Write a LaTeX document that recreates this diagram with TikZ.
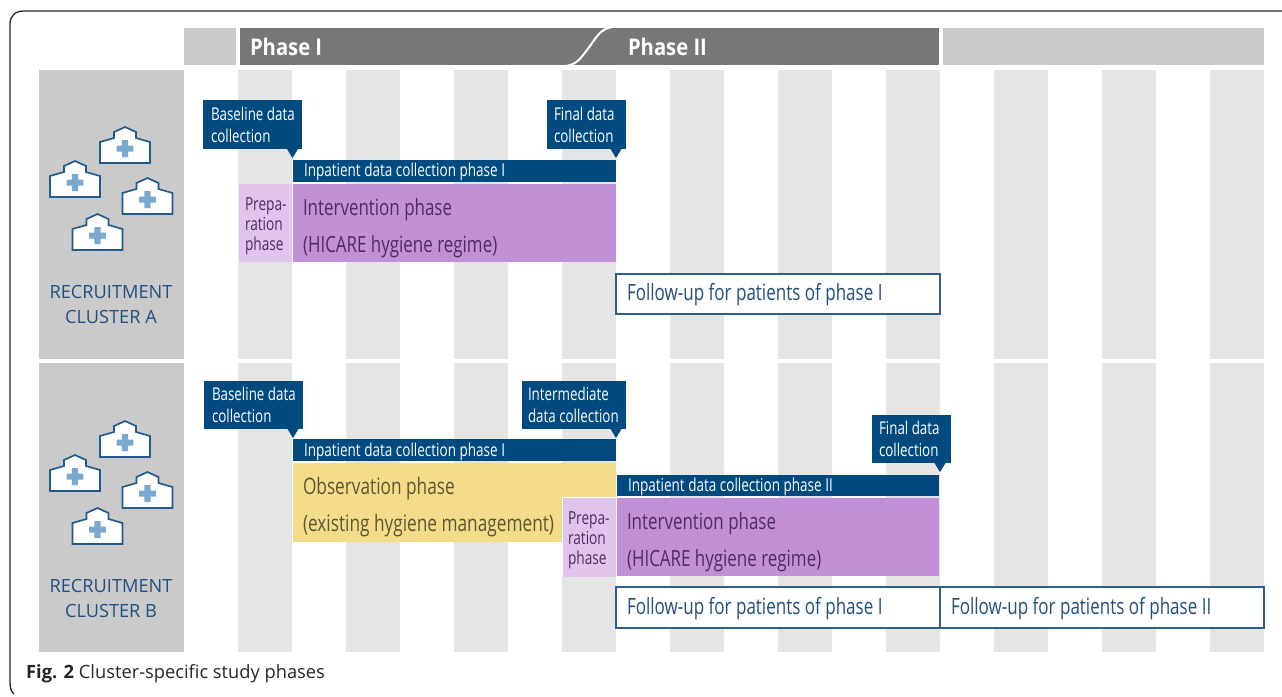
\documentclass[tikz,border=0pt]{standalone}
\usepackage{fontspec}
\setmainfont{Open Sans}
\newfontfamily\cond[FakeStretch=0.76]{Open Sans}
\newfontfamily\condb[FakeStretch=0.88]{Open Sans}
\newfontfamily\capf{Open Sans}
\definecolor{navy}{HTML}{004A80}
\definecolor{barline}{HTML}{2D5E8E}
\definecolor{hospc}{HTML}{225A8E}
\definecolor{hdr}{HTML}{777777}
\definecolor{hdrl}{HTML}{CACACA}
\definecolor{stripe}{HTML}{E5E5E5}
\definecolor{purp}{HTML}{C190D6}
\definecolor{prep}{HTML}{E0C4EC}
\definecolor{yell}{HTML}{F3DC8A}
\definecolor{crossc}{HTML}{7AA8CF}
\definecolor{ptxt}{HTML}{4E2C62}
\definecolor{ytxt}{HTML}{5E5632}
\definecolor{ftxt}{HTML}{224F7F}
\tikzset{x=1pt,y=-1pt,
 txt/.style={inner sep=0pt,outer sep=0pt,anchor=west,align=left,font=\cond},
 tbar/.style={txt,text=white,font=\cond\fontsize{17.8}{17.8}\selectfont},
 tcall/.style={txt,text=white,font=\cond\fontsize{17.6}{22.5}\selectfont},
 tbig/.style={txt,text=ptxt,font=\cond\fontsize{22.3}{37}\selectfont},
 tobs/.style={txt,text=ytxt,font=\cond\fontsize{22.7}{37}\selectfont},
 tprep/.style={txt,text=ptxt,font=\cond\fontsize{18}{20.2}\selectfont},
 tfol/.style={txt,text=ftxt,font=\cond\fontsize{22.4}{22.4}\selectfont},
 thead/.style={txt,text=white,font=\condb\bfseries\fontsize{23}{23}\selectfont},
 tclu/.style={inner sep=0pt,align=center,text=ftxt,font=\fontsize{18.2}{24.2}\selectfont},
 fillbox/.style={inner sep=0pt,outer sep=0pt,anchor=north west},
 followbox/.style={draw=barline,line width=1.6pt,fill=white},
 hospline/.style={draw=hospc,line width=1.7pt,fill=white,line join=miter},
}
\newcommand{\rbox}[6]{% name x1 y1 x2 y2 style
 \pgfmathsetmacro{\rw}{#4-#2}\pgfmathsetmacro{\rh}{#5-#3}
 \node[fillbox,minimum width=\rw pt,minimum height=\rh pt,#6] (#1) at (#2,#3) {};}
\newcommand{\calloutbox}[6]{% name x1 y1 x2 y2 tipx
 \rbox{#1}{#2}{#3}{#4}{#5}{fill=navy}
 \fill[navy] (#6-5.5,#5) -- (#6,#5+9) -- (#6+5.5,#5) -- cycle;}
\newcommand{\hosp}[2]{% centre x, top y
 \begin{scope}[shift={(#1,#2)}]
 \path[hospline] (-25,36) -- (-25,15) -- (-11,11) -- (-11,5) -- (0,0) -- (11,5) -- (11,11) -- (25,15) -- (25,36) -- cycle;
 \fill[crossc] (-3.2,13) -- (3.2,13) -- (3.2,18.5) -- (8.3,18.5) -- (8.3,24.7) -- (3.2,24.7) -- (3.2,30) -- (-3.2,30) -- (-3.2,24.7) -- (-8.3,24.7) -- (-8.3,18.5) -- (-3.2,18.5) -- cycle;
 \end{scope}}
\begin{document}
\begin{tikzpicture}
\useasboundingbox (0,0) rectangle (1282,696);
% frame
\draw[line width=1.3pt,black!85] (1282,11) -- (24,11) .. controls (15,11) and (10,16) .. (10,24) -- (10,682) .. controls (10,688) and (11,691) .. (14,694);
% header
\rbox{h0}{184}{28}{236}{65}{fill=hdrl}
\rbox{h1}{240}{28}{939}{65}{fill=hdr}
\rbox{h2}{943}{28}{1264}{65}{fill=hdrl}
\draw[white,line width=2pt] (565,66) .. controls (578,65) and (582,56) .. (590,46) .. controls (596,38) and (600,29) .. (612,27);
\node[thead] (ph1) at (250,47) {Phase I};
\node[thead] (ph2) at (628,47) {Phase II};
% cluster panels
\rbox{ca}{39}{70}{184}{359}{fill=hdrl}
\rbox{cb}{39}{363}{184}{652}{fill=hdrl}
% stripes
\foreach \sx in {238,346,454,562,670,778,886,994,1102,1210}{
 \rbox{sa\sx}{\sx}{70}{\sx+54}{359}{fill=stripe}
 \rbox{sb\sx}{\sx}{363}{\sx+54}{652}{fill=stripe}
}
% hospitals
\foreach \dy in {0,294}{
 \hosp{125}{127+\dy}
 \hosp{75}{161+\dy}
 \hosp{147.5}{178+\dy}
 \hosp{97.5}{214+\dy}
}
\node[tclu] (la) at (111,304.5) {RECRUITMENT\\CLUSTER A};
\node[tclu] (lb) at (111,598.5) {RECRUITMENT\\CLUSTER B};
% cluster A
\calloutbox{c1}{203}{100}{302}{149}{292.5}
\node[tcall] (c1t) at (211,125) {Baseline data\\collection};
\calloutbox{c2}{547}{100}{626}{149}{616}
\node[tcall] (c2t) at (554,125) {Final data\\collection};
\rbox{b1}{293}{160}{616}{182}{fill=navy}
\node[tbar] (b1t) at (304,171.5) {Inpatient data collection phase I};
\rbox{p1}{239}{184}{292}{262}{fill=prep}
\node[tprep] (p1t) at (245,226.5) {Prepa-\\ration\\phase};
\rbox{i1}{293}{184}{616}{262}{fill=purp}
\node[tbig] (i1t) at (303,228) {Intervention phase\\(HICARE hygiene regime)};
\rbox{f1}{616}{274}{940}{314}{followbox}
\node[tfol] (f1t) at (627,295) {Follow-up for patients of phase I};
% cluster B
\calloutbox{c3}{204}{381}{303}{429}{293}
\node[tcall] (c3t) at (212,405) {Baseline data\\collection};
\calloutbox{c4}{522}{381}{626}{429}{616}
\node[tcall] (c4t) at (528,405) {Intermediate\\data collection};
\rbox{b2}{293}{439}{616}{461}{fill=navy}
\node[tbar] (b2t) at (304,451.5) {Inpatient data collection phase I};
\rbox{o1}{293}{463}{616}{542}{fill=yell}
\node[tobs] (o1t) at (303,507) {Observation phase\\(existing hygiene management)};
\rbox{p2}{562}{497}{616}{577}{fill=white}
\rbox{p3}{563}{498}{616}{577}{fill=prep}
\node[tprep] (p3t) at (568,540.5) {Prepa-\\ration\\phase};
\calloutbox{c5}{872}{415}{951}{463}{940}
\node[tcall] (c5t) at (879,439) {Final data\\collection};
\rbox{b3}{617}{475}{939}{496}{fill=navy}
\node[tbar] (b3t) at (628,486.5) {Inpatient data collection phase II};
\rbox{i2}{617}{498}{939}{576}{fill=purp}
\node[tbig] (i2t) at (627,542) {Intervention phase\\(HICARE hygiene regime)};
\rbox{f2}{616}{587}{940}{628}{followbox}
\node[tfol] (f2t) at (627,609) {Follow-up for patients of phase I};
\rbox{f3}{940}{587}{1264}{628}{followbox}
\node[tfol] (f3t) at (951,609) {Follow-up for patients of phase II};
% caption
\node[inner sep=0pt,anchor=base west,text=black!85,font=\capf\fontsize{18.3}{18.3}\selectfont] (cap) at (26,678) {\textbf{Fig. 2} Cluster-specific study phases};
\end{tikzpicture}
\end{document}
